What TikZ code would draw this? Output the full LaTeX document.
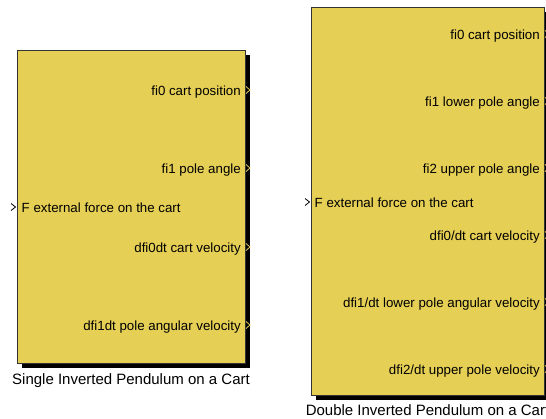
\documentclass[tikz,border=0pt]{standalone}
\usepackage{fontspec}
\setmainfont{Liberation Sans}
\definecolor{blockfill}{HTML}{E6CF55}
\definecolor{blockedge}{HTML}{333333}
\tikzset{
  x=1pt,y=-1pt,
  blockbody/.style={draw=blockedge,line width=0.9pt,fill=blockfill},
  shadowbox/.style={fill=black},
  outlabel/.style={anchor=mid east,inner sep=0pt,yshift=-2.5pt,font=\fontsize{13.3}{15}\selectfont},
  inlabel/.style={anchor=mid west,inner sep=0pt,yshift=-2.5pt,font=\fontsize{13.3}{15}\selectfont},
  captionlabel/.style={anchor=mid,inner sep=0pt,yshift=-2pt,font=\fontsize{15}{17}\selectfont},
  outport/.style={draw=blockfill,line width=0.8pt},
  inport/.style={draw=black,line width=0.8pt},
}
\begin{document}
\begin{tikzpicture}
\useasboundingbox (0,0) rectangle (546,418);
\clip (0,0) rectangle (546,418);
% ---- single pendulum block ----
\fill[shadowbox] (22,55) rectangle (250,368);
\draw[blockbody] (17,50) rectangle (245,363);
\coordinate (sA) at (245,90);
\coordinate (sB) at (245,168);
\coordinate (sC) at (245,247);
\coordinate (sD) at (245,325);
\coordinate (sIn) at (17,207);
\node[outlabel] (s1) at ([xshift=-4]sA) {fi0 cart position};
\node[outlabel] (s2) at ([xshift=-4]sB) {fi1 pole angle};
\node[outlabel] (s3) at ([xshift=-4]sC) {dfi0dt cart velocity};
\node[outlabel] (s4) at ([xshift=-4]sD) {dfi1dt pole angular velocity};
\node[inlabel] (sF) at ([xshift=4.5]sIn) {F external force on the cart};
\foreach \p in {sA,sB,sC,sD}{
  \draw[outport] ([xshift=1,yshift=-3.5]\p) -- ([xshift=5]\p) -- ([xshift=1,yshift=3.5]\p);
}
\draw[inport] ([xshift=-6,yshift=-3.5]sIn) -- ([xshift=-1.5]sIn) -- ([xshift=-6,yshift=3.5]sIn);
\node[captionlabel] (scap) at (131,380) {Single Inverted Pendulum on a Cart};
% ---- double pendulum block ----
\fill[shadowbox] (316,12) rectangle (549,400);
\draw[blockbody] (311,7) rectangle (544,395);
\coordinate (dA) at (544,34);
\coordinate (dB) at (544,101);
\coordinate (dC) at (544,168);
\coordinate (dD) at (544,235);
\coordinate (dE) at (544,302);
\coordinate (dF) at (544,369);
\coordinate (dIn) at (311,202);
\node[outlabel] (d1) at ([xshift=-4]dA) {fi0 cart position};
\node[outlabel] (d2) at ([xshift=-4]dB) {fi1 lower pole angle};
\node[outlabel] (d3) at ([xshift=-4]dC) {fi2 upper pole angle};
\node[outlabel] (d4) at ([xshift=-4]dD) {dfi0/dt cart velocity};
\node[outlabel] (d5) at ([xshift=-4]dE) {dfi1/dt lower pole angular velocity};
\node[outlabel] (d6) at ([xshift=-4]dF) {dfi2/dt upper pole velocity};
\node[inlabel] (dFin) at ([xshift=3.5]dIn) {F external force on the cart};
\foreach \p in {dA,dB,dC,dD,dE,dF}{
  \draw[outport] ([xshift=1,yshift=-3.5]\p) -- ([xshift=5]\p) -- ([xshift=1,yshift=3.5]\p);
}
\draw[inport] ([xshift=-6,yshift=-3.5]dIn) -- ([xshift=-1.5]dIn) -- ([xshift=-6,yshift=3.5]dIn);
\node[captionlabel] (dcap) at (427.5,411) {Double Inverted Pendulum on a Cart};
\end{tikzpicture}
\end{document}
